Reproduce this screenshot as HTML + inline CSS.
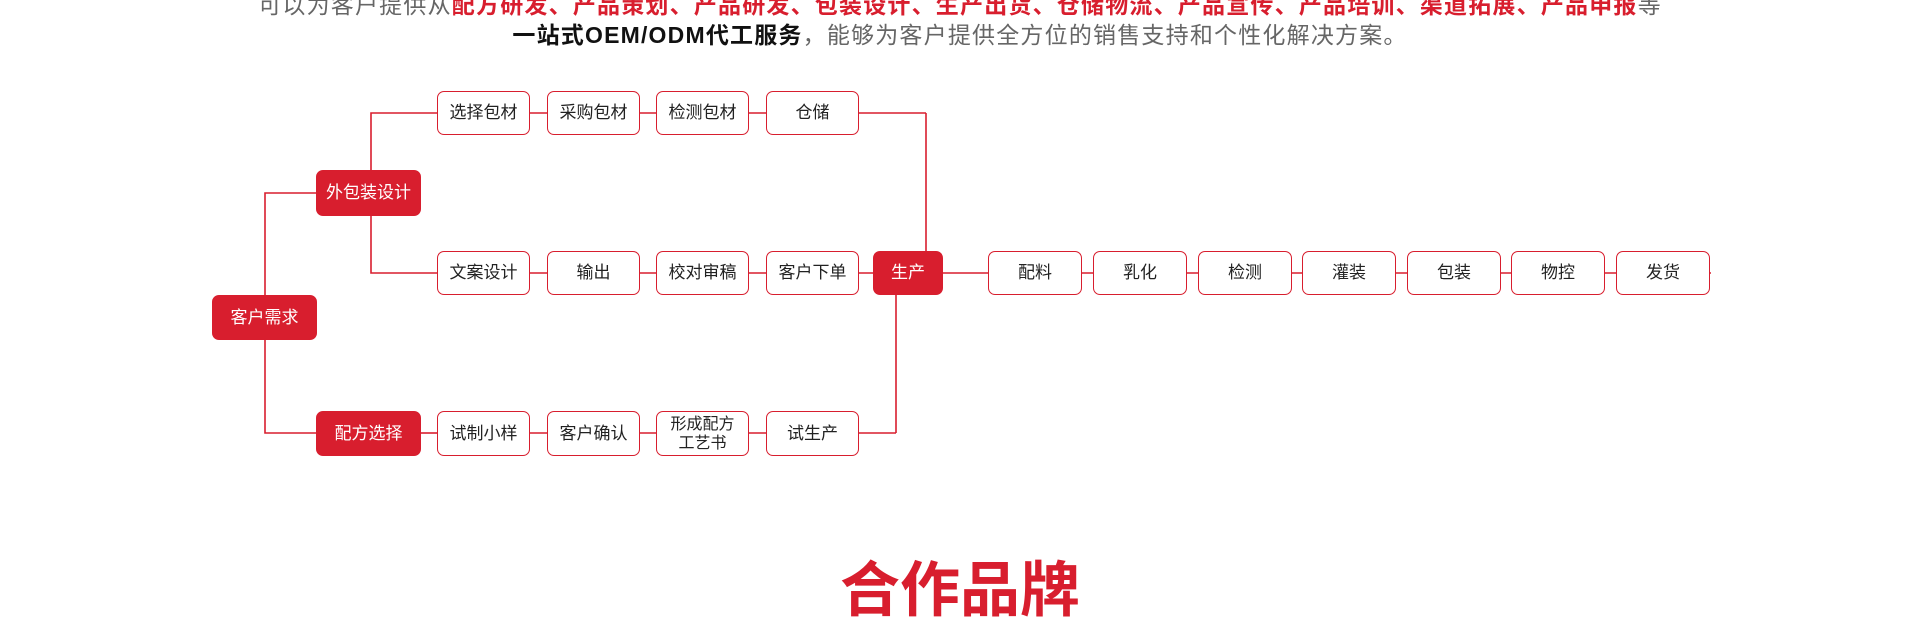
<!DOCTYPE html>
<html><head><meta charset="utf-8"><style>
body{margin:0;width:1920px;height:595px;background:#fff;overflow:hidden;position:relative;font-family:"Liberation Sans","Noto Sans CJK SC",sans-serif}
.b{position:absolute;box-sizing:border-box;border:1.6px solid #d81e2e;border-radius:7px;background:#fff;color:#222;font-size:17px;display:flex;align-items:center;justify-content:center;text-align:center;line-height:20px}
.f{background:#d81e2e;color:#fff}
.t{position:absolute;left:0;width:1920px;text-align:center;font-size:23px;white-space:nowrap;letter-spacing:1.2px}
</style></head><body>
<div class="t" style="top:-14px;color:#666">可以为客户提供从<b style="color:#d81e2e">配方研发、产品策划、产品研发、包装设计、生产出货、仓储物流、产品宣传、产品培训、渠道拓展、产品申报</b>等</div>
<div class="t" style="top:16px;color:#666"><b style="color:#111">一站式OEM/ODM代工服务</b>，能够为客户提供全方位的销售支持和个性化解决方案。</div>
<svg style="position:absolute;left:0;top:0" width="1920" height="595"><g stroke="#d81e2e" stroke-width="1.6" fill="none">
<polyline points="316,193 265,193 265,433 316,433"/>
<polyline points="437,113 371,113 371,273 437,273"/>
<line x1="421" y1="433" x2="437" y2="433"/>
<line x1="437" y1="113" x2="926" y2="113"/><line x1="926" y1="113" x2="926" y2="251"/>
<line x1="437" y1="273" x2="1711" y2="273"/>
<line x1="437" y1="433" x2="896" y2="433"/><line x1="896" y1="433" x2="896" y2="295"/>
</g></svg>
<div class="b f" style="left:212px;top:295px;width:105px;height:45px">客户需求</div>
<div class="b f" style="left:316px;top:170px;width:105px;height:46px">外包装设计</div>
<div class="b f" style="left:316px;top:411px;width:105px;height:45px">配方选择</div>
<div class="b" style="left:437px;top:91px;width:93px;height:44px">选择包材</div>
<div class="b" style="left:547px;top:91px;width:93px;height:44px">采购包材</div>
<div class="b" style="left:656px;top:91px;width:93px;height:44px">检测包材</div>
<div class="b" style="left:766px;top:91px;width:93px;height:44px">仓储</div>
<div class="b" style="left:437px;top:251px;width:93px;height:44px">文案设计</div>
<div class="b" style="left:547px;top:251px;width:93px;height:44px">输出</div>
<div class="b" style="left:656px;top:251px;width:93px;height:44px">校对审稿</div>
<div class="b" style="left:766px;top:251px;width:93px;height:44px">客户下单</div>
<div class="b f" style="left:873px;top:251px;width:70px;height:44px">生产</div>
<div class="b" style="left:988px;top:251px;width:94px;height:44px">配料</div>
<div class="b" style="left:1093px;top:251px;width:94px;height:44px">乳化</div>
<div class="b" style="left:1198px;top:251px;width:94px;height:44px">检测</div>
<div class="b" style="left:1302px;top:251px;width:94px;height:44px">灌装</div>
<div class="b" style="left:1407px;top:251px;width:94px;height:44px">包装</div>
<div class="b" style="left:1511px;top:251px;width:94px;height:44px">物控</div>
<div class="b" style="left:1616px;top:251px;width:94px;height:44px">发货</div>
<div class="b" style="left:437px;top:411px;width:93px;height:45px">试制小样</div>
<div class="b" style="left:547px;top:411px;width:93px;height:45px">客户确认</div>
<div class="b" style="left:656px;top:411px;width:93px;height:45px;font-size:16px;line-height:19px">形成配方<br>工艺书</div>
<div class="b" style="left:766px;top:411px;width:93px;height:45px">试生产</div>
<div style="position:absolute;left:0;width:1920px;top:556px;text-align:center;font-size:60px;font-weight:bold;color:#d81e2e;line-height:70px">合作品牌</div>
</body></html>
